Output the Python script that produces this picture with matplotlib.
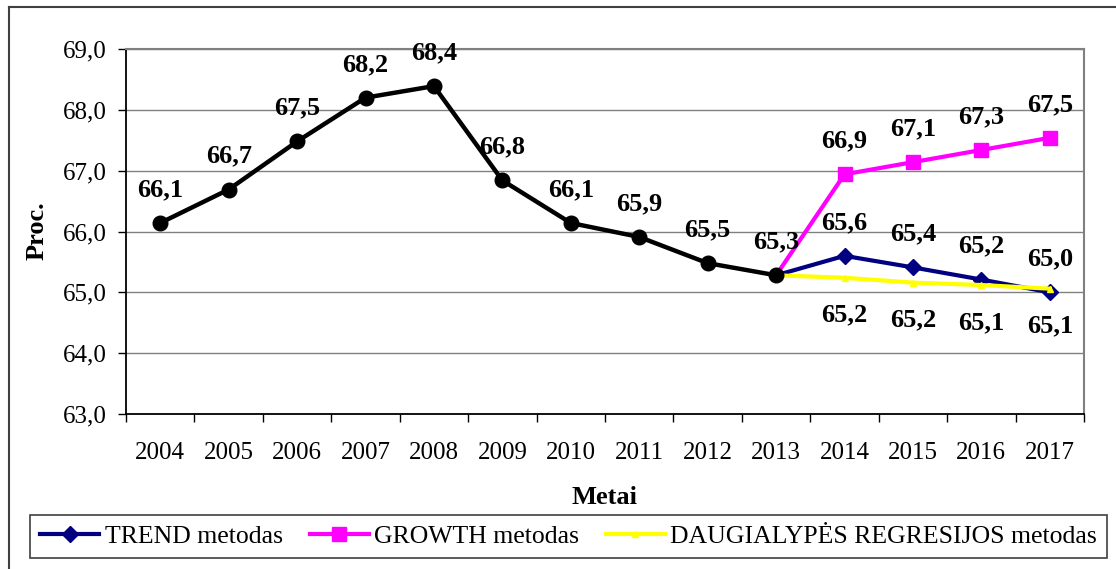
import matplotlib
matplotlib.use("Agg")
import matplotlib.pyplot as plt
from matplotlib.lines import Line2D

plt.rcParams['font.family'] = ['Liberation Serif', 'DejaVu Serif']

years = ["2004", "2005", "2006", "2007", "2008", "2009", "2010",
         "2011", "2012", "2013", "2014", "2015", "2016", "2017"]

# faktiniai duomenys 2004-2013
fact = [66.14, 66.69, 67.48, 68.2, 68.39, 66.84, 66.14, 65.91, 65.48, 65.28]

# prognozes 2013-2017
trend = [65.28, 65.6, 65.41, 65.21, 65.0]
growth = [65.28, 66.94, 67.14, 67.34, 67.54]
regres = [65.28, 65.24, 65.16, 65.12, 65.06]

yticks = [63, 64, 65, 66, 67, 68, 69]

W, H = 1116, 569
fig = plt.figure(figsize=(W / 100, H / 100), dpi=100)
ax = fig.add_axes([126 / W, (H - 414) / H, 958 / W, 365 / H])

x_fact = list(range(len(fact)))
x_prog = list(range(len(fact) - 1, len(years)))
skip0 = list(range(1, len(x_prog)))

ax.plot(x_prog, trend, color="#000080", lw=3, marker="D", ms=8.5,
        markevery=skip0, zorder=3)
ax.plot(x_prog, growth, color="#ff00ff", lw=3, marker="s", ms=9.5,
        markevery=skip0, zorder=3)
ax.plot(x_prog, regres, color="#ffff00", lw=3, marker="^", ms=4,
        markevery=skip0, zorder=4)
ax.plot(x_fact, fact, color="black", lw=3.2, marker="o", ms=10.5, zorder=5)


def fmt(v):
    return f"{v:.1f}".replace(".", ",")


lab_kw = dict(textcoords="offset points", ha="center", va="center",
              fontsize=19, fontweight="bold", zorder=6)
for x, v in zip(x_fact, fact):
    ax.annotate(fmt(v), (x, v), xytext=(0, 24), **lab_kw)
for x, v in zip(x_prog[1:], trend[1:]):
    ax.annotate(fmt(v), (x, v), xytext=(0, 24), **lab_kw)
for x, v in zip(x_prog[1:], growth[1:]):
    ax.annotate(fmt(v), (x, v), xytext=(0, 24), **lab_kw)
for x, v in zip(x_prog[1:], regres[1:]):
    ax.annotate(fmt(v), (x, v), xytext=(0, -27), **lab_kw)

ax.set_xlim(-0.5, len(years) - 0.5)
ax.set_ylim(63, 69)
ax.set_yticks(yticks)
ax.set_yticklabels([fmt(v) for v in yticks], fontsize=18)
ax.set_xticks(range(len(years)))
ax.set_xticklabels(years, fontsize=18)
ax.set_xticks([i - 0.5 for i in range(len(years) + 1)], minor=True)
ax.tick_params(axis="x", which="major", length=0, pad=20)
ax.tick_params(axis="x", which="minor", length=5.8, width=1, color="black")
ax.tick_params(axis="y", length=5.8, width=1, pad=8)

ax.grid(axis="y", color="#808080", lw=1)
ax.set_axisbelow(True)
for s in ["top", "right"]:
    ax.spines[s].set_color("#808080")
    ax.spines[s].set_linewidth(1.5)
for s in ["left", "bottom"]:
    ax.spines[s].set_color("black")
    ax.spines[s].set_linewidth(1.3)

fig.text(37 / W, 1 - 231 / H, "Proc.", rotation=90, ha="center", va="center",
         fontsize=19, fontweight="bold")
fig.text(605 / W, 1 - 497 / H, "Metai", ha="center", va="center",
         fontsize=19, fontweight="bold")

# isorinis remelis
fig.add_artist(Line2D([8.5 / W, 8.5 / W], [0, 1 - 7 / H], color="#404040", lw=1.5))
fig.add_artist(Line2D([8.5 / W, 1], [1 - 7 / H, 1 - 7 / H], color="#404040", lw=1.5))

handles = [
    Line2D([], [], color="#000080", lw=3, marker="D", ms=8.5),
    Line2D([], [], color="#ff00ff", lw=3, marker="s", ms=9.5),
    Line2D([], [], color="#ffff00", lw=3, marker="^", ms=4),
]
names = ["TREND metodas", "GROWTH metodas", "DAUGIALYPĖS REGRESIJOS metodas"]
leg = fig.legend(handles, names, ncol=3, mode="expand", loc="center",
                 bbox_to_anchor=(30 / W, 1 - 561 / H, 1077 / W, 49 / H),
                 bbox_transform=fig.transFigure, fontsize=18.5,
                 handlelength=2.3, handletextpad=0.2, borderaxespad=0,
                 fancybox=False, framealpha=1, edgecolor="#404040")
leg.get_frame().set_linewidth(1.2)

fig.savefig("out.png", dpi=100)
